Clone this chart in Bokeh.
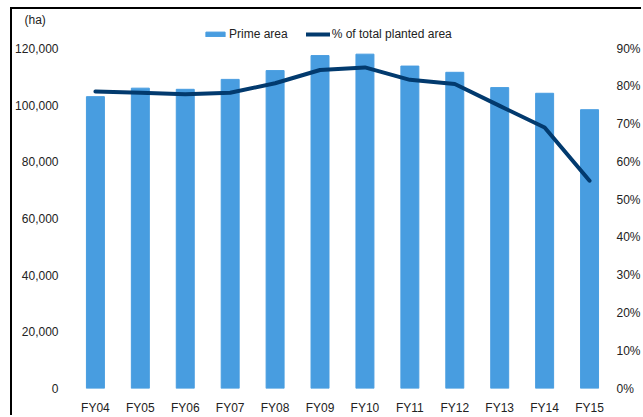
from bokeh.plotting import figure
from bokeh.models import (Range1d, LinearAxis, FixedTicker, NumeralTickFormatter,
                          Legend, LegendItem, Title, ColumnDataSource)
from bokeh.embed import file_html
from bokeh.resources import INLINE

categories = ["FY04", "FY05", "FY06", "FY07", "FY08", "FY09",
              "FY10", "FY11", "FY12", "FY13", "FY14", "FY15"]
prime_area = [103000, 106000, 105600, 109100, 112200, 117500,
              118000, 113800, 111600, 106200, 104200, 98400]
pct_planted = [78.6, 78.3, 77.9, 78.3, 80.8, 84.3,
               85.0, 81.7, 80.6, 74.8, 69.1, 55.0]
left_ticks = [0, 20000, 40000, 60000, 80000, 100000, 120000]
right_ticks = [0, 10, 20, 30, 40, 50, 60, 70, 80, 90]

FONT = "Liberation Sans"
FS = "12px"
BAR = "#489de0"
LINE = "#023a6e"
TXT = "#222222"

idx = list(range(len(categories)))
src = ColumnDataSource(dict(x=idx, area=prime_area,
                            pct=[v / 100 for v in pct_planted]))

W, H = 631, 408
BOTTOM = 29
TOP = 17
frame_h = H - BOTTOM - TOP
px_per_unit = 340 / 120000
y_end = frame_h / px_per_unit
y2_end = frame_h / 340 * 0.9

step = 45.09
x0 = -(94 - 72) / step
x1 = x0 + (606 - 72) / step

p = figure(width=W, height=H, output_backend="svg", toolbar_location=None,
           x_range=Range1d(x0, x1), y_range=Range1d(0, y_end),
           min_border_left=60, min_border_right=31, min_border_top=TOP,
           min_border_bottom=BOTTOM, margin=(7, 0, 0, 10),
           styles={"border-left": "2px solid black", "border-top": "2px solid black"})
p.xgrid.visible = False
p.ygrid.visible = False
p.outline_line_color = None
p.xaxis.visible = False
p.yaxis.visible = False

p.extra_y_ranges = {"pct": Range1d(0, y2_end)}

def style_axis(ax):
    ax.axis_line_color = None
    ax.major_tick_line_color = None
    ax.minor_tick_line_color = None
    ax.major_tick_out = 0
    ax.major_tick_in = 0
    ax.minor_tick_out = 0
    ax.minor_tick_in = 0
    ax.major_label_text_font = FONT
    ax.major_label_text_font_size = FS
    ax.major_label_text_color = TXT

ax_left = LinearAxis(ticker=FixedTicker(ticks=left_ticks),
                     formatter=NumeralTickFormatter(format="0,0"))
style_axis(ax_left)
ax_left.major_label_standoff = 15
p.add_layout(ax_left, "left")

ax_right = LinearAxis(y_range_name="pct",
                      ticker=FixedTicker(ticks=[t / 100 for t in right_ticks]),
                      formatter=NumeralTickFormatter(format="0%"))
style_axis(ax_right)
ax_right.major_label_standoff = 11
p.add_layout(ax_right, "right")

ax_bottom = LinearAxis(ticker=FixedTicker(ticks=idx),
                       major_label_overrides={i: c for i, c in enumerate(categories)})
style_axis(ax_bottom)
ax_bottom.major_label_standoff = 12
p.add_layout(ax_bottom, "below")

bars = p.vbar(x="x", top="area", width=0.4, source=src,
              fill_color=BAR, line_color=BAR)
line = p.line(x="x", y="pct", source=src, y_range_name="pct",
              line_color=LINE, line_width=4, line_cap="round", line_join="round")

legend = Legend(items=[LegendItem(label="Prime area", renderers=[bars]),
                       LegendItem(label="% of total planted area", renderers=[line])],
                orientation="horizontal", location=(130, 347),
                background_fill_alpha=0, border_line_color=None,
                padding=0, margin=0, spacing=18, label_standoff=2,
                glyph_width=24, glyph_height=6, label_height=12,
                label_text_font=FONT, label_text_font_size=FS,
                label_text_color=TXT)
p.add_layout(legend)

p.add_layout(Title(text="(ha)", align="left", offset=-49, standoff=0,
                   text_font=FONT, text_font_size=FS, text_font_style="normal",
                   text_color=TXT), "above")

open("out.html", "w").write(file_html(p, INLINE))
